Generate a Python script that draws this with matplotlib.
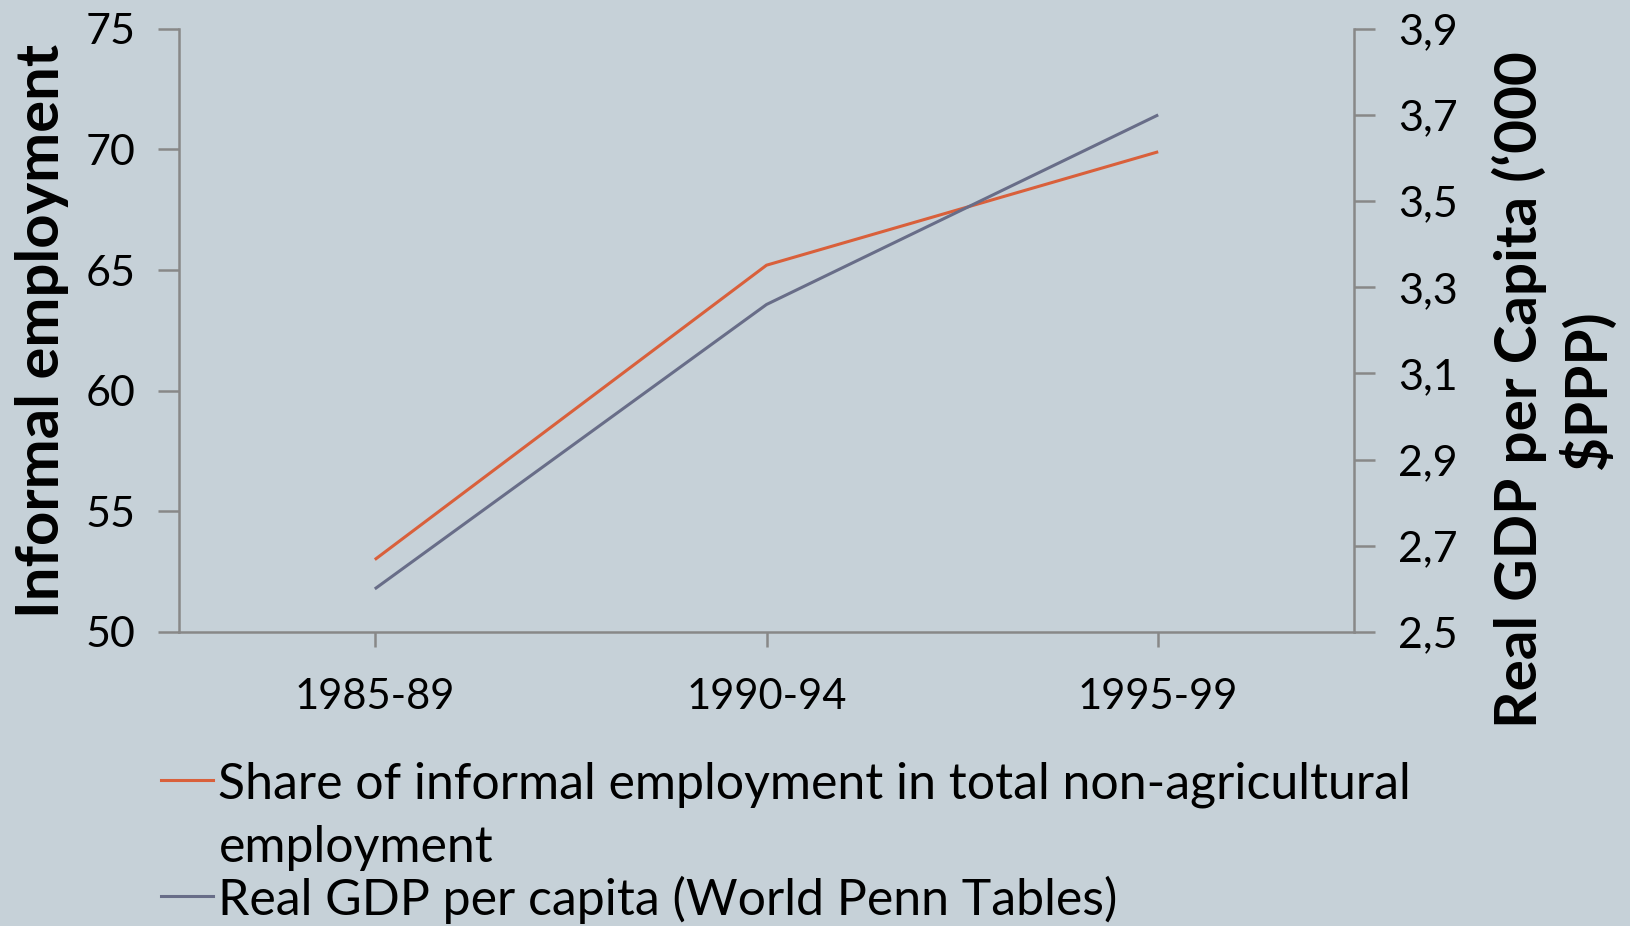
import matplotlib
matplotlib.use("Agg")
import matplotlib.pyplot as plt
from matplotlib.lines import Line2D

# Periods and series
periods = ["1985-89", "1990-94", "1995-99"]
informal_share = [53.0, 65.2, 69.9]     # % of non-agricultural employment
gdp_per_capita = [2.60, 3.26, 3.70]     # '000 $PPP

left_ticks = [50, 55, 60, 65, 70, 75]
right_ticks = [2.5, 2.7, 2.9, 3.1, 3.3, 3.5, 3.7, 3.9]

BG = "#C6D1D8"
RED = "#D9603B"
BLUE = "#686D88"
AXIS = "#888888"

plt.rcParams["font.family"] = ["Lato", "DejaVu Sans"]

fig = plt.figure(figsize=(16.3, 9.26), dpi=100, facecolor=BG)
ax = fig.add_axes([0.1098, 0.3175, 0.7209, 0.6515])
ax.set_facecolor(BG)
ax2 = ax.twinx()

x = list(range(len(periods)))
ax.plot(x, informal_share, color=RED, lw=2.2, solid_capstyle="butt")
ax2.plot(x, gdp_per_capita, color=BLUE, lw=2.2, solid_capstyle="butt")

ax.set_xlim(-0.5, 2.5)
ax.set_ylim(50, 75)
ax2.set_ylim(2.5, 3.9)

ax.set_xticks(x)
ax.set_xticklabels(periods)
ax.set_yticks(left_ticks)
ax2.set_yticks(right_ticks)
ax2.set_yticklabels([f"{v:.1f}".replace(".", ",") for v in right_ticks])

for a in (ax, ax2):
    a.spines["top"].set_visible(False)
    for side in ("left", "right", "bottom"):
        a.spines[side].set_color(AXIS)
        a.spines[side].set_linewidth(1.8)
ax.spines["right"].set_visible(False)
ax2.spines["left"].set_visible(False)
ax2.spines["bottom"].set_visible(False)

ax.tick_params(axis="y", length=15, width=1.8, color=AXIS, labelsize=31, pad=16)
ax.tick_params(axis="x", length=11, width=1.8, color=AXIS, labelsize=30, pad=22)
ax2.tick_params(axis="y", length=15, width=1.8, color=AXIS, labelsize=31, pad=17)

fig.text(0.026, 0.643, "Informal employment", rotation=90, ha="center", va="center",
         fontsize=43, fontweight="bold")
fig.text(0.953, 0.579, "Real GDP per Capita (\u2018000\n$PPP)", rotation=90,
         ha="center", va="center", fontsize=42, fontweight="bold",
         multialignment="center", linespacing=1.25)

# Legend drawn below the plot
legend_items = [
    (RED, "Share of informal employment in total non-agricultural\nemployment", 0.158, 0.1185),
    (BLUE, "Real GDP per capita (World Penn Tables)", 0.0324, 0.028),
]
for color, label, y_line, y_text in legend_items:
    fig.add_artist(Line2D([0.0988, 0.1307], [y_line, y_line], color=color, lw=2.2,
                          transform=fig.transFigure))
    fig.text(0.134, y_text, label, ha="left", va="center",
             fontsize=36, linespacing=1.48)

fig.savefig("out.png", dpi=100, facecolor=BG)
